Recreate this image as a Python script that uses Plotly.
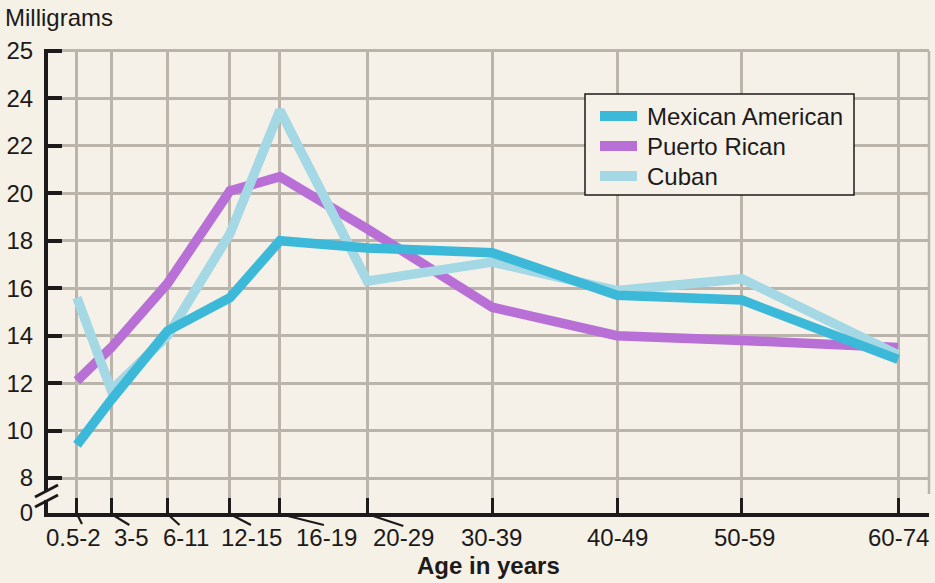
import plotly.graph_objects as go

# Daily iron intake (mg) by age group
age_groups = ["0.5-2", "3-5", "6-11", "12-15", "16-19",
              "20-29", "30-39", "40-49", "50-59", "60-74"]
mexican_american = [9.4, 11.3, 14.2, 15.6, 18.0, 17.7, 17.5, 15.7, 15.5, 13.0]
puerto_rican = [12.1, 13.5, 16.2, 20.1, 20.7, 18.5, 15.2, 14.0, 13.8, 13.5]
cuban = [15.6, 11.7, 14.0, 18.3, 23.5, 16.3, 17.1, 15.9, 16.4, 13.2]

# y-axis: broken scale, labelled 0 at the floor and 25 on the top gridline
y_grid_labels = ["8", "10", "12", "14", "16", "18", "20", "22", "24"]

# each age group is placed at the midpoint of its age range
age_mid = [sum(float(p) for p in g.split("-")) / 2 for g in age_groups]

Y_FLOOR = 6.53
Y_TOP = 26.0
y_tickvals = [Y_FLOOR] + [float(v) for v in y_grid_labels] + [Y_TOP]
y_ticktext = ["0"] + y_grid_labels + ["25"]

FONT = "Liberation Sans, Arial, Helvetica, sans-serif"
INK = "#1c1a1a"
GRID = "#bbb4ab"
BG = "#f6f1e6"
PLOT_BG = "#f5f1e9"
FS = 24

fig = go.Figure()

# drawing order (bottom to top) and legend order differ
series = {
    "Mexican American": (mexican_american, "#3cb9d9"),
    "Puerto Rican": (puerto_rican, "#b86fd6"),
    "Cuban": (cuban, "#a3d8e4"),
}
for name in ["Puerto Rican", "Cuban", "Mexican American"]:
    vals, color = series[name]
    fig.add_trace(go.Scatter(
        x=age_mid, y=vals, name=name, mode="lines",
        line=dict(color=color, width=9.5), showlegend=False,
    ))

annotations = []
shapes = []


def px_shape(kind, x0, x1, y0, y1, **kw):
    """Shape positioned in pixels from the plot's top-left corner."""
    return dict(type=kind, xref="paper", xsizemode="pixel", xanchor=0,
                x0=x0, x1=x1, yref="paper", ysizemode="pixel", yanchor=1,
                y0=-y0, y1=-y1, **kw)


# keep the grid clear of the axes: a gap next to the y ticks and above the x ticks
shapes.append(px_shape("rect", 2, 22, 0, 464, fillcolor=PLOT_BG,
                       line=dict(width=0), layer="between"))
shapes.append(px_shape("rect", 2, 881, 443, 462, fillcolor=PLOT_BG,
                       line=dict(width=0), layer="between"))

# legend box with swatches
shapes.append(px_shape("rect", 537, 806, 45, 146, fillcolor=PLOT_BG,
                       line=dict(color=INK, width=1.5), layer="above"))
for i, name in enumerate(series):
    row = 67 + 30 * i
    shapes.append(px_shape("rect", 552, 589, row - 5, row + 5,
                           fillcolor=series[name][1], line=dict(width=0),
                           layer="above"))
    annotations.append(dict(
        x=0, xref="paper", xanchor="left", xshift=597, y=1, yref="paper",
        yanchor="middle", yshift=-row, text=name, showarrow=False,
        font=dict(size=FS, color=INK, family=FONT)))

# category labels below the axis, some pushed right with leader lines
label_shift = {"0.5-2": -3, "3-5": 20, "6-11": 18, "12-15": 22, "16-19": 47,
               "20-29": 36, "30-39": -1, "40-49": 0, "50-59": 3, "60-74": 0}
leader_end = {"0.5-2": (5, -11), "3-5": (18, -12), "6-11": (12, -12),
              "12-15": (21, -12), "16-19": (44, -12), "20-29": (36, -13)}

for g, xm in zip(age_groups, age_mid):
    annotations.append(dict(
        x=xm, xref="x", y=0, yref="paper", yanchor="middle", xanchor="center",
        yshift=-24, xshift=label_shift[g], text=g, showarrow=False,
        font=dict(size=FS, color=INK, family=FONT)))
    if g in leader_end:
        dx, dy = leader_end[g]
        shapes.append(dict(
            type="line", xref="x", xsizemode="pixel", xanchor=xm, x0=0, x1=dx,
            yref="paper", ysizemode="pixel", yanchor=0, y0=-1, y1=dy,
            line=dict(color=INK, width=2.2), layer="above"))

annotations.append(dict(
    x=0, xref="paper", xanchor="left", xshift=-45, y=1, yref="paper",
    yanchor="middle", yshift=32, text="Milligrams", showarrow=False,
    font=dict(size=FS, color=INK, family=FONT)))
annotations.append(dict(
    x=0.5, xref="paper", xanchor="center", y=0, yref="paper",
    yanchor="middle", yshift=-52, text="<b>Age in years</b>", showarrow=False,
    font=dict(size=FS, color=INK, family=FONT)))

# right border of the grid
shapes.append(dict(type="line", xref="paper", x0=1, x1=1, yref="y",
                   y0=Y_FLOOR + 0.8, y1=Y_TOP, line=dict(color=GRID, width=2.5),
                   layer="below"))
# axis break between 0 and 8
shapes.append(dict(type="rect", xref="paper", xsizemode="pixel", xanchor=0,
                   x0=-4, x1=4, yref="paper", ysizemode="pixel", yanchor=0,
                   y0=13, y1=22, fillcolor=BG, line=dict(width=0), layer="above"))
for y0 in (6, 16):
    shapes.append(dict(type="line", xref="paper", xsizemode="pixel", xanchor=0,
                       x0=-13, x1=10, yref="paper", ysizemode="pixel", yanchor=0,
                       y0=y0, y1=y0 + 12, line=dict(color=INK, width=3),
                       layer="above"))

fig.update_layout(
    width=935, height=583,
    margin=dict(l=48, r=6, t=49, b=70, autoexpand=False),
    paper_bgcolor=BG, plot_bgcolor=PLOT_BG,
    font=dict(family=FONT, color=INK),
    showlegend=False,
    xaxis=dict(
        range=[-1.07, 69.48], tickvals=age_mid, showticklabels=False,
        ticks="inside", ticklen=15, tickwidth=3, tickcolor=INK,
        showgrid=True, gridcolor=GRID, gridwidth=2.5,
        showline=True, linecolor=INK, linewidth=4, zeroline=False,
        fixedrange=True, automargin=False,
    ),
    yaxis=dict(
        range=[6.525, 26.084], tickvals=y_tickvals, ticktext=y_ticktext,
        ticks="inside", ticklen=14, tickwidth=3.5, tickcolor=INK,
        ticklabelstandoff=6, tickfont=dict(size=FS, color=INK, family=FONT),
        showgrid=True, gridcolor=GRID, gridwidth=2.5,
        showline=True, linecolor=INK, linewidth=4, zeroline=False,
        fixedrange=True, automargin=False,
    ),
    annotations=annotations,
    shapes=shapes,
)

fig.write_html("out.html")
